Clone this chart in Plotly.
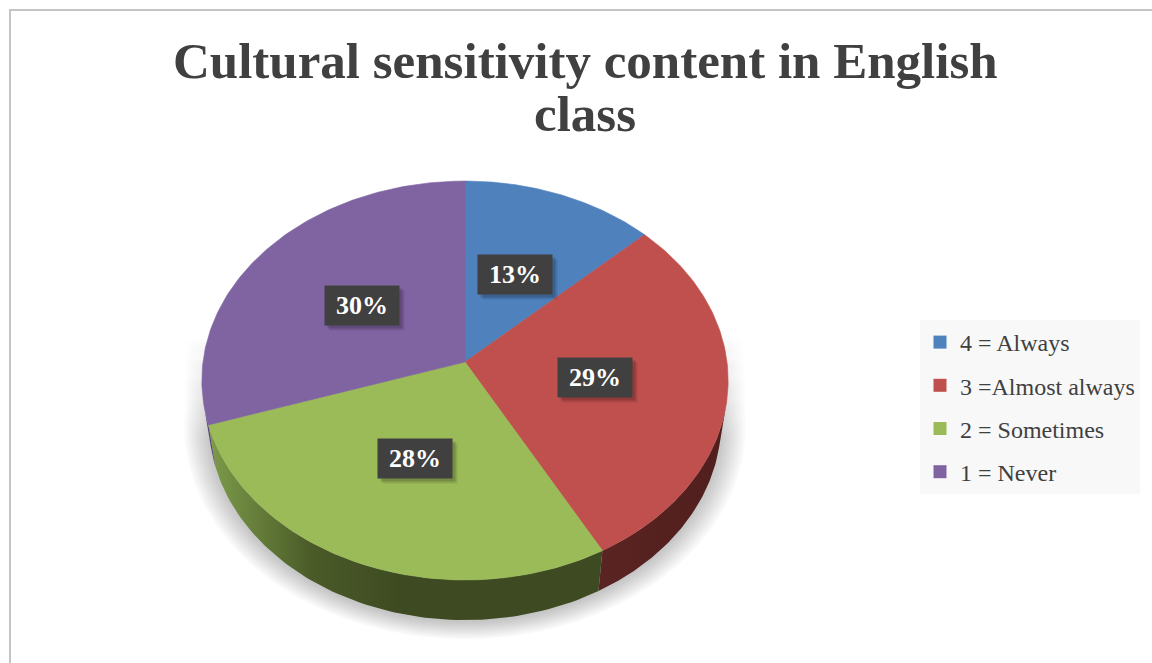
import numpy as np
import plotly.graph_objects as go

# ---- data -------------------------------------------------------------
categories = ["4 = Always", "3 =Almost always", "2 = Sometimes", "1 = Never"]
shares = [13, 29, 28, 30]          # percent of responses
title_lines = ["Cultural sensitivity content in English", "class"]

# ---- styling ----------------------------------------------------------
top_colors = ["#4f81bd", "#c0504d", "#9bbb59", "#8064a2"]
side_scales = [
    [[0, "#2c4a6e"], [1, "#2c4a6e"]],
    [[0, "#5a2422"], [1, "#4b1c1b"]],
    [[0, "#7d9c4a"], [0.55, "#4a5a28"], [1, "#3e4b22"]],
    [[0, "#5a4676"], [1, "#4a3a62"]],
]
TEXT_GREY = "#404040"
W, H = 1152, 663

# ---- 3-D view of a tilted disc (pixel space) ---------------------------
CX, CY = 465.0, 362.0           # screen position of the disc centre
ELEV = np.deg2rad(49.0)         # viewing elevation
DIST = 7.07                     # camera distance, in disc radii
SCALE = 262.0 * DIST            # focal scale
THICK = 0.252                   # disc thickness, in disc radii


def project(theta, y=0.0, r=1.0):
    """Screen coords of a point on the disc (theta clockwise from the back)."""
    X = r * np.sin(theta)
    Z = r * np.cos(theta)
    up = y * np.cos(ELEV) + Z * np.sin(ELEV)
    depth = DIST - y * np.sin(ELEV) + Z * np.cos(ELEV)
    return CX + SCALE * X / depth, CY - SCALE * up / depth


total = float(sum(shares))
bounds = np.concatenate([[0.0], np.cumsum(shares)]) / total * 2 * np.pi

fig = go.Figure()

# ---- soft shadow under the disc ----------------------------------------
t_front = np.linspace(np.pi / 2, 3 * np.pi / 2, 120)
bx, by = project(t_front, -THICK)
y_ref = by[0]
n_layers = 12
for i in range(n_layers):
    f = i / (n_layers - 1)
    sx, sy, dy = 1.0 + 0.095 * f, 1.0 + 0.07 * f, 2.0 + 2.0 * f
    xs = CX + (bx - CX) * sx
    ys = y_ref + (by - y_ref) * sy + dy
    top_y = 330.0 + 10 * f
    px = np.concatenate([[xs[0]], xs, [xs[-1]], [xs[0]]])
    py = np.concatenate([[top_y], ys, [top_y], [top_y]])
    fig.add_trace(go.Scatter(
        x=px, y=py, mode="lines", line=dict(width=0), fill="toself",
        fillgradient=dict(type="vertical", start=330, stop=440,
                          colorscale=[[0, "rgba(0,0,0,0)"], [1, "rgba(0,0,0,0.022)"]]),
        hoverinfo="skip", showlegend=False))

# ---- visible side wall of each slice ------------------------------------
t_vis = np.arccos(-1.0 / (DIST * np.cos(ELEV)))
for k in range(len(shares)):
    a = max(bounds[k], t_vis)
    b = min(bounds[k + 1], 2 * np.pi - t_vis)
    if b <= a:
        continue
    t = np.linspace(a, b, 80)
    tx, ty = project(t, 0.0)
    ux, uy = project(t[::-1], -THICK)
    px = np.concatenate([tx, ux, tx[:1]])
    py = np.concatenate([ty, uy, ty[:1]])
    fig.add_trace(go.Scatter(
        x=px, y=py, mode="lines", line=dict(width=0), fill="toself",
        fillgradient=dict(type="horizontal", start=float(px.min()), stop=float(px.min()) + 190,
                          colorscale=side_scales[k]),
        hoverinfo="skip", showlegend=False))

# ---- top faces ----------------------------------------------------------
for k, (name, val) in enumerate(zip(categories, shares)):
    t = np.linspace(bounds[k], bounds[k + 1], 120)
    ax, ay = project(t, 0.0)
    px = np.concatenate([[CX], ax, [CX]])
    py = np.concatenate([[CY], ay, [CY]])
    fig.add_trace(go.Scatter(
        x=px, y=py, mode="lines", line=dict(width=0.6, color=top_colors[k]),
        fill="toself", fillcolor=top_colors[k],
        name=name, hovertemplate=f"{name}: {val}%<extra></extra>", showlegend=False))

# ---- legend entries -----------------------------------------------------
for k, name in enumerate(categories):
    fig.add_trace(go.Scatter(
        x=[None], y=[None], mode="markers", name=name, legendgroup=name,
        marker=dict(symbol="square", size=13, color=top_colors[k])))

# ---- value labels -------------------------------------------------------
annotations = []
for k, val in enumerate(shares):
    mid = 0.5 * (bounds[k] + bounds[k + 1])
    lx, ly = project(mid, 0.0, r=0.5)
    lx, ly = float(lx), float(ly)
    for off, alpha in ((5, 0.10), (3, 0.16)):
        annotations.append(dict(
            x=lx + off, y=ly + off, xref="x", yref="y", text=" ", showarrow=False,
            width=74, height=39, bgcolor=f"rgba(0,0,0,{alpha})", borderpad=0))
    annotations.append(dict(
        x=lx, y=ly, xref="x", yref="y", text=f"<b>{val}%</b>", showarrow=False,
        width=74, height=39, bgcolor="#404040", borderpad=0,
        font=dict(family="Liberation Serif", size=26, color="white")))

# ---- title ---------------------------------------------------------------
for line, yc in zip(title_lines, (61, 114)):
    annotations.append(dict(
        x=585, y=yc, xref="x", yref="y", text=f"<b>{line}</b>", showarrow=False,
        xanchor="center", yanchor="middle",
        font=dict(family="Liberation Serif", size=51, color=TEXT_GREY)))

fig.update_layout(
    width=W, height=H,
    margin=dict(l=0, r=0, t=0, b=0),
    paper_bgcolor="white", plot_bgcolor="white",
    xaxis=dict(range=[0, W], visible=False, fixedrange=True),
    yaxis=dict(range=[H, 0], visible=False, fixedrange=True),
    annotations=annotations,
    shapes=[dict(type="rect", xref="x", yref="y", x0=10, y0=10, x1=W + 10, y1=H + 10,
                 line=dict(color="#c4c4c4", width=2), layer="above")],
    legend=dict(
        x=920 / W, y=1 - 320 / H, xanchor="left", yanchor="top",
        bgcolor="#f8f8f8", traceorder="grouped", tracegroupgap=9,
        font=dict(family="Liberation Serif", size=24, color=TEXT_GREY),
        itemclick=False, itemdoubleclick=False),
    showlegend=True,
)

fig.write_html("out.html")
